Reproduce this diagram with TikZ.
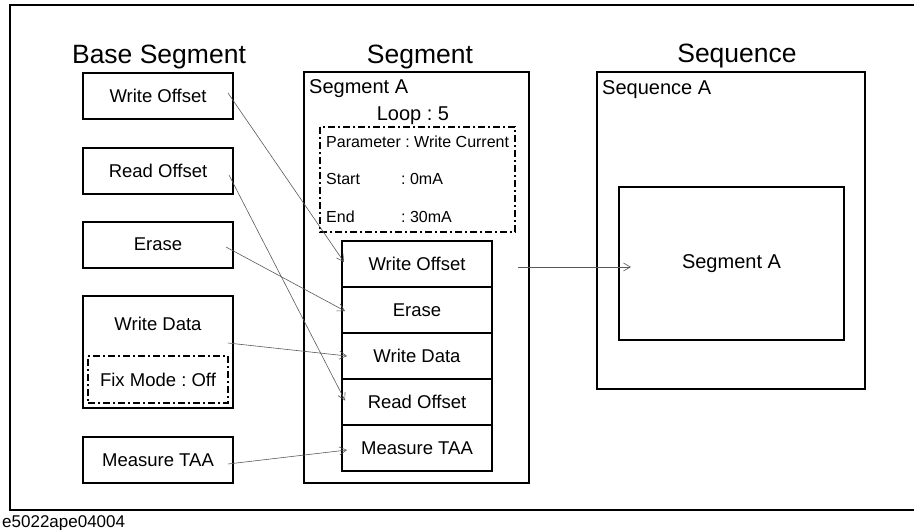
\documentclass[tikz,border=0pt]{standalone}
\usepackage{fontspec}
\setmainfont{Liberation Sans}
\frenchspacing
\usetikzlibrary{arrows.meta,positioning}

\begin{document}
\begin{tikzpicture}[x=1pt,y=-1pt,node distance=46pt]
    \tikzstyle{block} = [rectangle,minimum width=150pt,minimum height=46pt,inner sep=0pt,text centered,draw=black,line width=2pt,fill=white,font=\fontsize{18.5}{20}\selectfont]
    \tikzstyle{dashbox} = [draw=black,line width=2pt,dash pattern=on 7pt off 3pt on 2pt off 3pt]
    \tikzstyle{title} = [anchor=base,font=\fontsize{26.5}{28}\selectfont]
    \tikzstyle{tag} = [anchor=base west,inner sep=0pt,font=\fontsize{20}{22}\selectfont]
    \tikzstyle{small} = [anchor=base west,inner sep=0pt,font=\fontsize{16}{18}\selectfont]
    \tikzstyle{link} = [-{Straight Barb[length=7pt,width=8pt]},draw=black!65,line width=0.6pt]
    \useasboundingbox (0,0) rectangle (914,530);
    % outer frame
    \draw [line width=2pt] (10,5) rectangle (940,510);
    \node (foot)[anchor=base west,inner sep=0pt,font=\fontsize{17}{18}\selectfont] at (2,527) {e5022ape04004};
    % base segments
    \node (baseT)[title] at (159,63) {Base Segment};
    \node (bwo)[block] at (158,96) {Write Offset};
    \node (bro)[block] at (158,170.5) {Read Offset};
    \node (ber)[block] at (158,244.5) {Erase};
    \node (bwd)[block,minimum height=112pt] at (158,352) {};
    \node (bwdtxt)[font=\fontsize{18.5}{20}\selectfont] at ([yshift=-29pt]bwd.north) {Write Data};
    \node (fix)[dashbox,minimum width=140pt,minimum height=47pt,inner sep=0pt,font=\fontsize{18.5}{20}\selectfont] at (158,379.5) {Fix Mode : Off};
    \node (bms)[block] at (158,460) {Measure TAA};
    % segment
    \node (segT)[title] at (420,63) {Segment};
    \draw [line width=2pt] (304,72) rectangle (529,483);
    \node (segA)[tag] at (309,93) {Segment A};
    \node (loop)[anchor=base,inner sep=0pt,font=\fontsize{20}{22}\selectfont] at (413,120) {Loop : 5};
    \draw [dashbox] (320,127) rectangle (515,232);
    \node (par)[small] at (326,147) {Parameter : Write Current};
    \node (start)[small] at (326,184) {Start};
    \node (startv)[small] at (401,184) {: 0mA};
    \node (end)[small] at (326,222) {End};
    \node (endv)[small] at (401,222) {: 30mA};
    \node (swo)[block] at (417,264) {Write Offset};
    \node (ser)[block,below of=swo] {Erase};
    \node (swd)[block,below of=ser] {Write Data};
    \node (sro)[block,below of=swd] {Read Offset};
    \node (sms)[block,below of=sro] {Measure TAA};
    % sequence
    \node (seqT)[title] at (737,62) {Sequence};
    \draw [line width=2pt] (597,72) rectangle (865,389);
    \node (seqA)[tag] at (602,94) {Sequence A};
    \node (seqseg)[block,minimum width=225pt,minimum height=153pt,font=\fontsize{20}{22}\selectfont] at (731.5,263.5) {Segment A};
    % links
    \draw [link] ([xshift=-6pt,yshift=3pt]bwo.east) -- ([xshift=3pt,yshift=2pt]swo.west);
    \draw [link] ([xshift=-5pt,yshift=-4.5pt]bro.east) -- ([xshift=4pt,yshift=1.5pt]sro.west);
    \draw [link] ([xshift=-8pt,yshift=-2.5pt]ber.east) -- ([xshift=4pt,yshift=-1pt]ser.west);
    \draw [link] ([xshift=-6pt,yshift=9pt]bwd.east) -- ([xshift=6pt]swd.west);
    \draw [link] ([xshift=-6pt,yshift=-4pt]bms.east) -- ([xshift=6pt,yshift=-2pt]sms.west);
    \draw [link] ([xshift=25pt,yshift=-3pt]swo.east) -- ([xshift=13pt,yshift=-3.5pt]seqseg.west);
\end{tikzpicture}
\end{document}
